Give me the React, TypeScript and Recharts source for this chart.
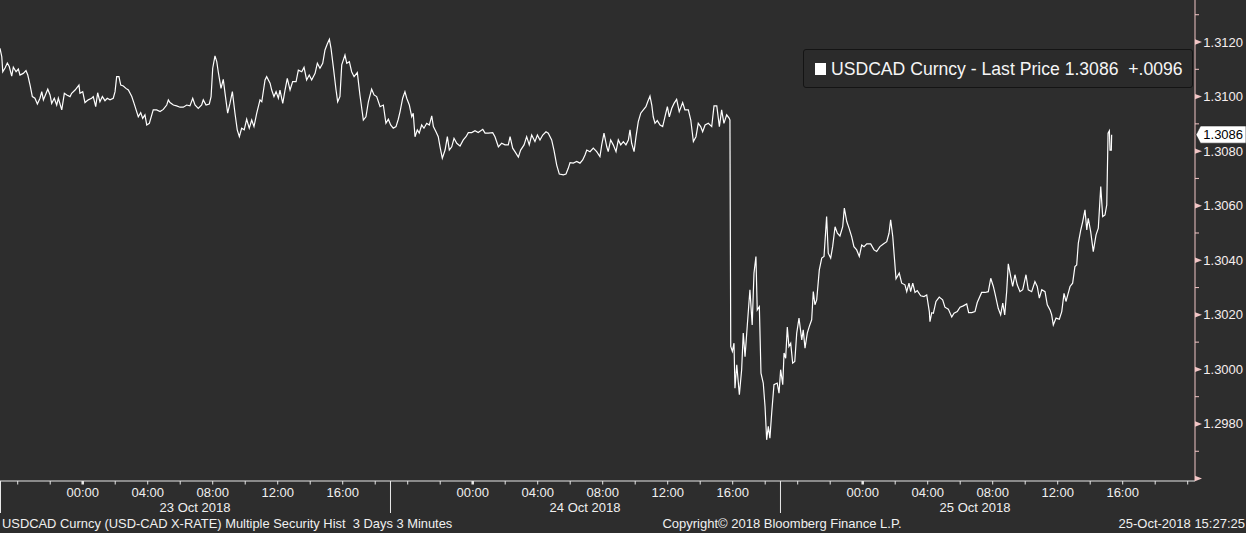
import React from "react";
import { LineChart, Line, XAxis, YAxis, ReferenceDot } from "recharts";

if (typeof document !== "undefined") {
  document.body.style.margin = "0";
  document.body.style.background = "#2d2d2d";
}

// Hours relative to 23 Oct 2018 00:00
const times: number[] = [
  -5.09, -4.98, -4.92, -4.78, -4.64, -4.52, -4.37, -4.27, -4.10, -3.96,
  -3.86, -3.66, -3.49, -3.38, -3.24, -3.10, -2.94, -2.79, -2.63, -2.52,
  -2.42, -2.15, -2.01, -1.91, -1.75, -1.60, -1.50, -1.29, -1.13, -0.98,
  -0.78, -0.68, -0.47, -0.23, -0.17, 0.00, 0.14, 0.34, 0.55, 0.65,
  0.80, 0.92, 1.06, 1.21, 1.37, 1.51, 1.68, 1.88, 1.99, 2.09,
  2.23, 2.34, 2.50, 2.66, 2.81, 3.02, 3.16, 3.32, 3.42, 3.57,
  3.69, 3.83, 3.94, 4.10, 4.25, 4.34, 4.55, 4.76, 4.96, 5.17,
  5.27, 5.37, 5.58, 5.78, 5.99, 6.19, 6.40, 6.60, 6.77, 6.91,
  7.11, 7.32, 7.42, 7.59, 7.79, 7.90, 8.00, 8.14, 8.25, 8.34,
  8.51, 8.65, 8.76, 8.92, 9.06, 9.21, 9.37, 9.51, 9.64, 9.78,
  9.94, 10.09, 10.25, 10.40, 10.54, 10.71, 10.91, 11.02, 11.22, 11.32,
  11.53, 11.63, 11.77, 11.90, 12.04, 12.14, 12.31, 12.45, 12.59, 12.76,
  12.92, 13.13, 13.27, 13.48, 13.62, 13.78, 13.94, 14.09, 14.30, 14.44,
  14.60, 14.77, 14.91, 15.05, 15.18, 15.28, 15.42, 15.59, 15.69, 15.83,
  15.94, 16.14, 16.25, 16.41, 16.55, 16.70, 16.90, 17.06, 17.27, 17.43,
  17.58, 17.78, 17.93, 18.09, 18.30, 18.50, 18.66, 18.81, 18.95, 19.11,
  19.28, 19.42, 19.53,
  19.69, 19.83, 19.94, 20.10, 20.25, 20.34, 20.45, 20.59, 20.71, 20.86,
  21.00, 21.17, 21.33, 21.48, 21.58, 21.74, 21.88, 21.99, 22.13, 22.30,
  22.44, 22.56, 22.71, 22.85, 23.02, 23.22, 23.42, 23.59, 23.73, 23.94,
  24.14, 24.34, 24.62, 24.76, 24.96, 25.23, 25.37, 25.58, 25.78, 25.99,
  26.19, 26.30, 26.46, 26.60, 26.81, 26.95, 27.16, 27.32, 27.48, 27.63,
  27.83, 27.98, 28.14, 28.31, 28.51, 28.65, 28.86, 29.00, 29.17, 29.33,
  29.58, 29.74, 29.88, 29.99, 30.19, 30.40, 30.60, 30.77, 30.91, 31.02,
  31.22, 31.42, 31.63, 31.83, 31.94, 32.08, 32.25, 32.34, 32.49, 32.65,
  32.82, 32.96, 33.11, 33.27, 33.43, 33.58, 33.68, 33.78, 33.93, 34.05,
  34.19, 34.34, 34.50, 34.66, 34.77, 34.91, 35.02, 35.11, 35.22, 35.36,
  35.53, 35.69, 35.83, 35.98, 36.10, 36.25, 36.39, 36.55, 36.71, 36.92,
  37.06, 37.27, 37.42, 37.58, 37.74, 37.88, 38.03, 38.15, 38.30, 38.50,
  38.71, 38.85, 39.02, 39.18, 39.32, 39.46, 39.63, 39.79, 39.83,
  39.88, 39.98, 40.08, 40.14, 40.25, 40.41, 40.55, 40.65, 40.76, 40.90,
  41.06, 41.20, 41.31, 41.43, 41.51, 41.64, 41.74, 41.88, 41.99, 42.09,
  42.19, 42.29, 42.40, 42.54, 42.74, 42.85, 42.95, 43.08, 43.16, 43.26,
  43.36, 43.46, 43.57, 43.69, 43.82, 43.94, 44.08, 44.25, 44.34, 44.45,
  44.59, 44.71, 44.86, 44.96, 45.06, 45.17, 45.33, 45.48, 45.62, 45.78,
  45.88, 46.03, 46.15, 46.30, 46.44, 46.60, 46.77, 46.87, 47.02, 47.16,
  47.32, 47.46, 47.63, 47.79, 47.94, 48.08, 48.25, 48.49, 48.70, 48.86,
  49.06, 49.27, 49.48, 49.62, 49.72, 49.85, 50.05, 50.25, 50.40, 50.60,
  50.71, 50.85, 50.95, 51.08, 51.22, 51.36, 51.57, 51.77, 51.94, 52.10,
  52.14, 52.25, 52.35, 52.51, 52.71, 52.92, 53.06, 53.27, 53.48, 53.62,
  53.82, 53.99, 54.19, 54.40, 54.52, 54.71, 54.91, 55.05, 55.32, 55.53,
  55.73, 55.88, 56.04, 56.14, 56.34, 56.49, 56.62, 56.74, 56.86, 56.96,
  57.11, 57.23, 57.37, 57.51, 57.68, 57.85, 58.05, 58.19, 58.40, 58.60,
  58.74, 58.87, 59.02, 59.22, 59.36, 59.53, 59.63, 59.73, 59.90, 60.10,
  60.25, 60.39, 60.51, 60.62, 60.76, 60.92, 61.06, 61.17, 61.27, 61.42,
  61.54, 61.68, 61.79, 61.88, 62.03, 62.19, 62.36, 62.50, 62.65, 62.77,
  62.91, 63.02, 63.10, 63.18, 63.22, 63.30, 63.32,
];

const prices: number[] = [
  1.31177, 1.31146, 1.31091, 1.31105, 1.31123, 1.31110, 1.31075, 1.31108, 1.31091, 1.31101,
  1.31079, 1.31085, 1.31095, 1.31079, 1.31042, 1.31000, 1.30994, 1.30973, 1.30994, 1.31018,
  1.30988, 1.31027, 1.31006, 1.30975, 1.30994, 1.30969, 1.30994, 1.30951, 1.31012, 1.31006,
  1.31000, 1.31012, 1.31024, 1.31042, 1.31012, 1.31018, 1.30978, 1.30988, 1.30994, 1.31000,
  1.30963, 1.31014, 1.30981, 1.31000, 1.30985, 1.30994, 1.30988, 1.30994, 1.31018, 1.31073,
  1.31073, 1.31042, 1.31039, 1.31030, 1.31024, 1.31000, 1.30975, 1.30945, 1.30926, 1.30941,
  1.30920, 1.30933, 1.30896, 1.30902, 1.30933, 1.30951, 1.30951, 1.30945, 1.30953, 1.30969,
  1.30988, 1.30978, 1.30969, 1.30966, 1.30961, 1.30961, 1.30969, 1.30966, 1.30994, 1.30969,
  1.30957, 1.30969, 1.30988, 1.30969, 1.30973, 1.31000, 1.31104, 1.31149, 1.31128, 1.31091,
  1.31030, 1.31063, 1.31012, 1.30939, 1.30975, 1.31018, 1.30939, 1.30878, 1.30853, 1.30884,
  1.30878, 1.30917, 1.30884, 1.30914, 1.30890, 1.30939, 1.30988, 1.30981, 1.31061, 1.31073,
  1.31049, 1.31024, 1.31000, 1.31018, 1.30994, 1.31024, 1.30975, 1.31024, 1.31067, 1.31024,
  1.31055, 1.31055, 1.31097, 1.31091, 1.31107, 1.31061, 1.31079, 1.31061, 1.31085, 1.31122,
  1.31104, 1.31122, 1.31171, 1.31193, 1.31210, 1.31177, 1.31110, 1.31024, 1.30981, 1.31000,
  1.31116, 1.31152, 1.31122, 1.31128, 1.31091, 1.31073, 1.31088, 1.31006, 1.30914, 1.30926,
  1.30981, 1.31027, 1.31006, 1.31000, 1.30963, 1.30969, 1.30902, 1.30917, 1.30896, 1.30884,
  1.30890, 1.30917, 1.30945,
  1.30994, 1.31018, 1.30994, 1.30969, 1.30926, 1.30939, 1.30853, 1.30878, 1.30866, 1.30896,
  1.30884, 1.30902, 1.30896, 1.30929, 1.30890, 1.30871, 1.30853, 1.30816, 1.30774, 1.30804,
  1.30853, 1.30804, 1.30816, 1.30847, 1.30829, 1.30819, 1.30841, 1.30853, 1.30868, 1.30868,
  1.30875, 1.30868, 1.30880, 1.30866, 1.30866, 1.30868, 1.30853, 1.30816, 1.30829, 1.30823,
  1.30823, 1.30853, 1.30811, 1.30798, 1.30778, 1.30804, 1.30823, 1.30853, 1.30823, 1.30859,
  1.30835, 1.30859, 1.30841, 1.30859, 1.30871, 1.30866, 1.30841, 1.30804, 1.30749, 1.30716,
  1.30713, 1.30716, 1.30737, 1.30758, 1.30756, 1.30762, 1.30756, 1.30768, 1.30786, 1.30804,
  1.30798, 1.30811, 1.30798, 1.30780, 1.30823, 1.30866, 1.30816, 1.30798, 1.30841, 1.30823,
  1.30798, 1.30841, 1.30823, 1.30835, 1.30823, 1.30841, 1.30878, 1.30829, 1.30798, 1.30853,
  1.30908, 1.30939, 1.30951, 1.30963, 1.30981, 1.31002, 1.30969, 1.30926, 1.30902, 1.30912,
  1.30896, 1.30890, 1.30926, 1.30963, 1.30926, 1.30957, 1.30975, 1.30990, 1.30945, 1.30978,
  1.30951, 1.30951, 1.30914, 1.30835, 1.30853, 1.30902, 1.30890, 1.30871, 1.30896, 1.30902,
  1.30890, 1.30966, 1.30966, 1.30890, 1.30951, 1.30902, 1.30933, 1.30920, 1.30914,
  1.30084, 1.30066, 1.30096, 1.29931, 1.30017, 1.29907, 1.29999, 1.30133, 1.30047, 1.30163,
  1.30292, 1.30163, 1.30353, 1.30414, 1.30218, 1.30230, 1.29986, 1.29950, 1.29864, 1.29742,
  1.29791, 1.29748, 1.29840, 1.29944, 1.29950, 1.29913, 1.29999, 1.29944, 1.30060, 1.30041,
  1.30155, 1.30084, 1.30096, 1.30023, 1.30029, 1.30133, 1.30188, 1.30108, 1.30145, 1.30078,
  1.30133, 1.30157, 1.30182, 1.30285, 1.30237, 1.30255, 1.30365, 1.30408, 1.30414, 1.30560,
  1.30426, 1.30408, 1.30450, 1.30523, 1.30499, 1.30489, 1.30523, 1.30591, 1.30542, 1.30518,
  1.30487, 1.30450, 1.30438, 1.30414, 1.30456, 1.30450, 1.30460, 1.30460, 1.30438, 1.30432,
  1.30450, 1.30460, 1.30468, 1.30499, 1.30548, 1.30487, 1.30332, 1.30353, 1.30316, 1.30310,
  1.30285, 1.30316, 1.30285, 1.30316, 1.30282, 1.30289, 1.30270, 1.30267, 1.30273, 1.30212,
  1.30175, 1.30208, 1.30206, 1.30249, 1.30265, 1.30255, 1.30228, 1.30221, 1.30192, 1.30206,
  1.30212, 1.30228, 1.30233, 1.30240, 1.30208, 1.30208, 1.30212, 1.30245, 1.30282, 1.30282,
  1.30285, 1.30334, 1.30304, 1.30279, 1.30224, 1.30200, 1.30243, 1.30200, 1.30285, 1.30387,
  1.30340, 1.30304, 1.30347, 1.30310, 1.30285, 1.30292, 1.30347, 1.30292, 1.30285, 1.30322,
  1.30304, 1.30261, 1.30292, 1.30285, 1.30237, 1.30218, 1.30200, 1.30163, 1.30188, 1.30184,
  1.30212, 1.30279, 1.30249, 1.30273, 1.30304, 1.30316, 1.30377, 1.30383, 1.30463, 1.30511,
  1.30542, 1.30585, 1.30511, 1.30554, 1.30505, 1.30432, 1.30493, 1.30518, 1.30670, 1.30560,
  1.30566, 1.30603, 1.30866, 1.30875, 1.30804, 1.30804, 1.30860,
];

const sessionStarts: number[] = [-5.09, 18.91, 42.91];
const dayLabels: string[] = ["23 Oct 2018", "24 Oct 2018", "25 Oct 2018"];
const labelledHours: number[] = [0, 4, 8, 12, 16];

const lastPrice = 1.3086;
const netChange = "+.0096";
const legendName = "USDCAD Curncy - Last Price";
const footerLeft = "USDCAD Curncy (USD-CAD X-RATE) Multiple Security Hist\u00a0\u00a03 Days 3 Minutes";
const footerCenter = "Copyright\u00a9 2018 Bloomberg Finance L.P.";
const footerRight = "25-Oct-2018 15:27:25";

const X_MIN = -5.09;
const X_MAX = 68.45;
const Y_MIN = 1.29591;
const Y_MAX = 1.31354;

const BG = "#2d2d2d";
const FONT = "'Liberation Sans', Arial, sans-serif";
const TEXT = "#f0f0f0";
const YAXIS_COLOR = "#f2c6c6";
const XAXIS_COLOR = "#e8e8e8";

const data = times.map((t, i) => ({ t, price: prices[i] }));

const hourTicks: number[] = [];
for (let h = -4; h <= 68; h += 2) hourTicks.push(h);
const dayMids = sessionStarts.map((s) => s + 12);
const xTicks = [...hourTicks, ...sessionStarts, ...dayMids].sort((a, b) => a - b);

const yTicks: number[] = [];
for (let k = 12960; k <= 13130; k += 10) yTicks.push(k / 10000);

const near = (a: number, list: number[]) => list.findIndex((b) => Math.abs(a - b) < 1e-6);

const TimeTick = (props: any) => {
  const { x, y, payload } = props;
  const v: number = payload.value;
  const si = near(v, sessionStarts);
  if (si >= 0) {
    return <line x1={x + 0.5} x2={x + 0.5} y1={y} y2={y + 32} stroke={XAXIS_COLOR} strokeWidth={1} />;
  }
  const di = near(v, dayMids);
  if (di >= 0) {
    return (
      <text x={x} y={y + 26} textAnchor="middle" dominantBaseline="central" fontFamily={FONT} fontSize={13} fill={TEXT}>
        {dayLabels[di]}
      </text>
    );
  }
  const hod = ((Math.round(v) % 24) + 24) % 24;
  const show = labelledHours.includes(hod);
  return (
    <g>
      <line x1={x} x2={x} y1={y} y2={y + 3.5} stroke={XAXIS_COLOR} strokeWidth={hod === 0 ? 2.5 : 1} />
      {show && (
        <text x={x} y={y + 11} textAnchor="middle" dominantBaseline="central" fontFamily={FONT} fontSize={13} fill={TEXT}>
          {`${String(hod).padStart(2, "0")}:00`}
        </text>
      )}
    </g>
  );
};

const PriceTick = (props: any) => {
  const { x, y, payload } = props;
  const v: number = payload.value;
  const k = Math.round(v * 10000);
  if (k % 20 === 0) {
    return (
      <g>
        <polygon points={`${x},${y - 2.7} ${x + 7},${y} ${x},${y + 2.7}`} fill={YAXIS_COLOR} />
        {k >= 12970 && (
          <text x={x + 8.3} y={y} dominantBaseline="central" fontFamily={FONT} fontSize={13} fill="#f6eeee">
            {v.toFixed(4)}
          </text>
        )}
      </g>
    );
  }
  return <line x1={x} x2={x + 4} y1={y} y2={y} stroke={YAXIS_COLOR} strokeWidth={1} />;
};

const LastTag = (props: any) => {
  const { cx, cy } = props;
  if (cx == null || cy == null) return null;
  return (
    <g>
      <path
        d={`M${cx + 1},${cy} L${cx + 5.5},${cy - 8.8} L${cx + 51},${cy - 8.8} L${cx + 51},${cy + 8.4} L${cx + 5.5},${cy + 8.4} Z`}
        fill="#ffffff"
        stroke="#222"
        strokeWidth={0.6}
      />
      <text x={cx + 8.3} y={cy} dominantBaseline="central" fontFamily={FONT} fontSize={13} fill="#000">
        {lastPrice.toFixed(4)}
      </text>
    </g>
  );
};

export default function App() {
  return (
    <div style={{ position: "relative", width: 1246, height: 533, background: BG, fontFamily: FONT, overflow: "hidden" }}>
      <LineChart width={1246} height={533} data={data} margin={{ top: 0, right: 0, bottom: 0, left: 0 }}>
        <XAxis
          dataKey="t"
          type="number"
          domain={[X_MIN, X_MAX]}
          allowDataOverflow
          ticks={xTicks}
          interval={0}
          tickSize={0}
          tickMargin={0}
          height={52}
          stroke={XAXIS_COLOR}
          tick={(p: any) => <TimeTick {...p} />}
        />
        <YAxis
          orientation="right"
          type="number"
          domain={[Y_MIN, Y_MAX]}
          allowDataOverflow
          ticks={yTicks}
          interval={0}
          width={51}
          tickSize={0}
          tickMargin={0}
          stroke={YAXIS_COLOR}
          tick={(p: any) => <PriceTick {...p} />}
        />
        <Line
          dataKey="price"
          type="linear"
          stroke="#ffffff"
          strokeWidth={1.2}
          dot={false}
          activeDot={false}
          isAnimationActive={false}
        />
        <ReferenceDot x={X_MAX} y={lastPrice} r={0} ifOverflow="visible" shape={(p: any) => <LastTag {...p} />} />
      </LineChart>

      <div
        style={{
          position: "absolute",
          left: 803,
          top: 49,
          width: 388,
          height: 37,
          border: "1px solid #141414",
          borderRadius: 3,
          background: "#2b2b2b",
          color: "#f5f5f5",
          fontSize: 17.6,
          lineHeight: "39px",
          whiteSpace: "nowrap",
        }}
      >
        <span style={{ position: "absolute", left: 11, top: 13, width: 11, height: 12, background: "#ffffff" }} />
        <span style={{ position: "absolute", left: 27, top: 0 }}>
          {`${legendName} ${lastPrice.toFixed(4)}\u00a0 ${netChange}`}
        </span>
      </div>

      <div style={{ position: "absolute", left: 2, top: 516, fontSize: 12.9, lineHeight: "15px", color: TEXT, whiteSpace: "pre" }}>
        {footerLeft}
      </div>
      <div
        style={{
          position: "absolute",
          left: 782,
          top: 516,
          transform: "translateX(-50%)",
          fontSize: 13,
          lineHeight: "15px",
          color: TEXT,
          whiteSpace: "nowrap",
        }}
      >
        {footerCenter}
      </div>
      <div style={{ position: "absolute", right: 1, top: 516, fontSize: 13, lineHeight: "15px", color: TEXT, whiteSpace: "nowrap" }}>
        {footerRight}
      </div>
    </div>
  );
}
